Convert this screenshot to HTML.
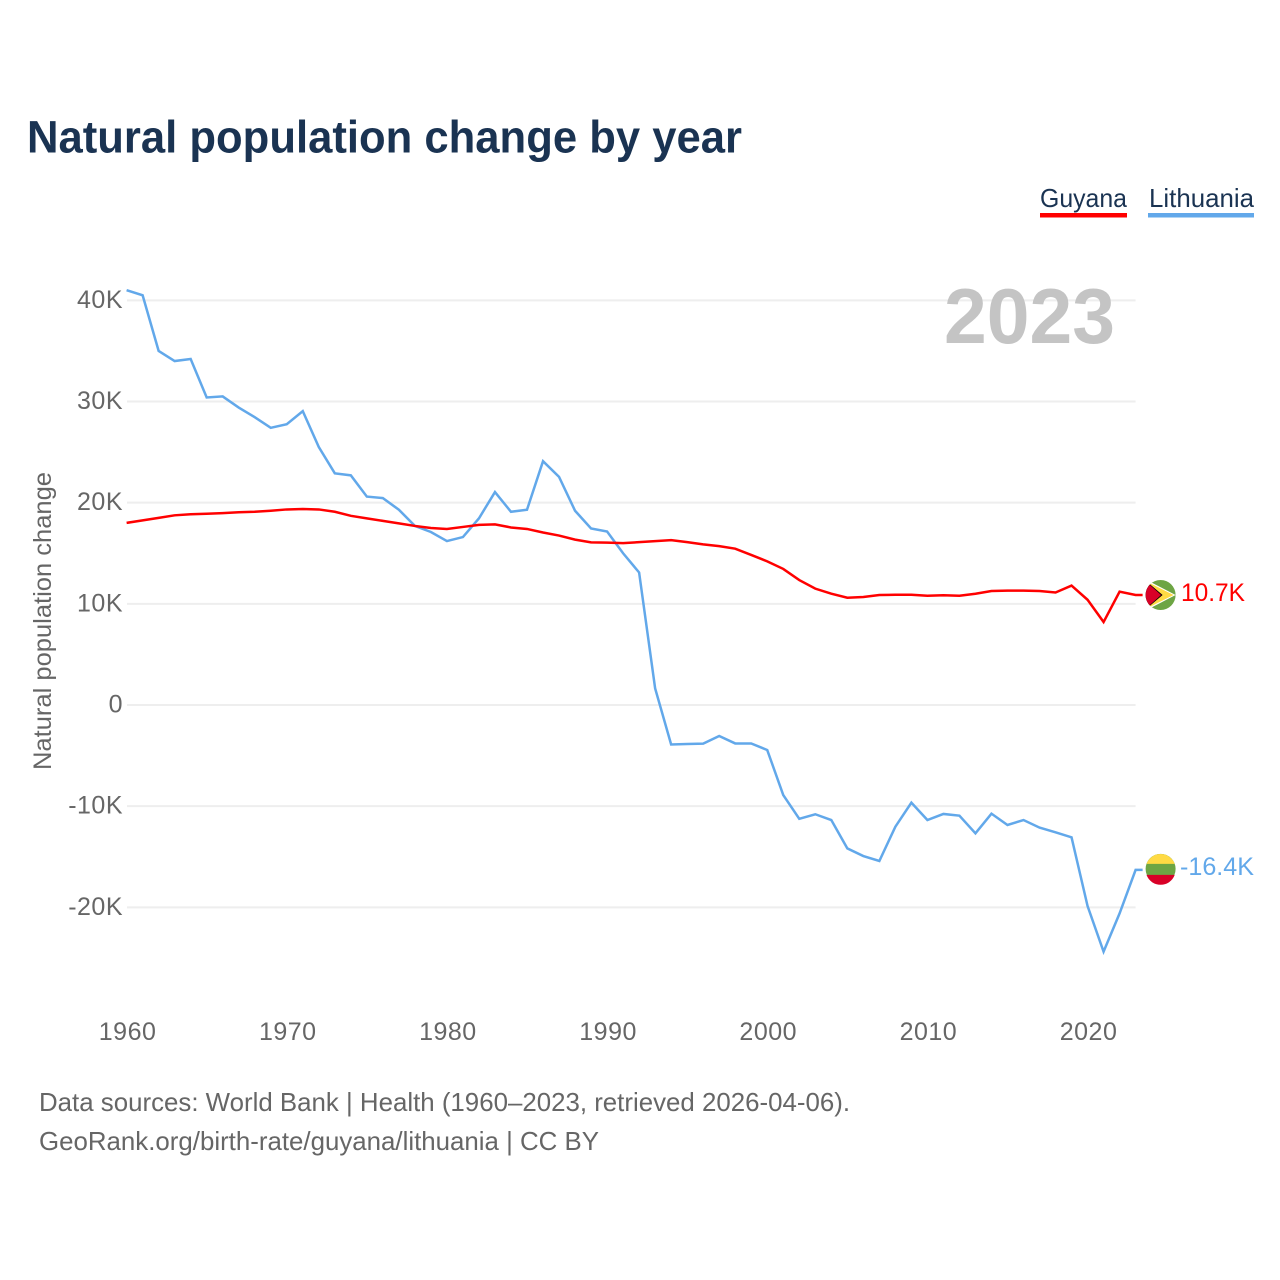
<!DOCTYPE html>
<html lang="en">
<head>
<meta charset="utf-8">
<title>Natural population change by year</title>
<style>
html,body{margin:0;padding:0;background:#fff;width:1280px;height:1280px;overflow:hidden}
svg{display:block}
text{font-family:"Liberation Sans",sans-serif}
.tick{font-size:25px;fill:#666;letter-spacing:.5px}
.foot{font-size:26px;fill:#666}
.legend{font-size:26px;fill:#1a3352}
</style>
</head>
<body>
<svg id="chart" xmlns="http://www.w3.org/2000/svg" width="1280" height="1280" viewBox="0 0 1280 1280">
  <defs>
    <clipPath id="flag-clip"><circle r="15"/></clipPath>
  </defs>
  <text x="27" y="152.5" font-size="45" font-weight="700" fill="#1a3352" textLength="715" lengthAdjust="spacingAndGlyphs">Natural population change by year</text>

  <g>
    <text class="legend" x="1040" y="207" textLength="87" lengthAdjust="spacingAndGlyphs">Guyana</text>
    <rect x="1040" y="213" width="87" height="4.5" fill="#ff0000"/>
  </g>
  <g>
    <text class="legend" x="1149" y="207" textLength="105" lengthAdjust="spacingAndGlyphs">Lithuania</text>
    <rect x="1148" y="213" width="106" height="4.5" fill="#62a8ea"/>
  </g>

  <g id="grid"></g>
  <g id="yticks"></g>
  <g id="xticks"></g>

  <text transform="translate(51 621) rotate(-90)" text-anchor="middle" font-size="25" fill="#666" textLength="298" lengthAdjust="spacingAndGlyphs">Natural population change</text>

  <text x="944" y="343" font-size="78" font-weight="700" fill="#c4c4c4" textLength="171" lengthAdjust="spacingAndGlyphs">2023</text>

  <g id="series"></g>

  <text class="foot" x="39" y="1111" textLength="811" lengthAdjust="spacingAndGlyphs">Data sources: World Bank | Health (1960–2023, retrieved 2026-04-06).</text>
  <text class="foot" x="39" y="1150" textLength="560" lengthAdjust="spacingAndGlyphs">GeoRank.org/birth-rate/guyana/lithuania | CC BY</text>
</svg>
<script>
const startYear = 1960;
const xTickYears = [1960, 1970, 1980, 1990, 2000, 2010, 2020];
const yTickValues = [40, 30, 20, 10, 0, -10, -20];
const yTickLabels = ['40K', '30K', '20K', '10K', '0', '-10K', '-20K'];
const guyanaValues = [18.0,18.25,18.5,18.75,18.85,18.9,18.97,19.05,19.1,19.2,19.33,19.37,19.33,19.1,18.7,18.45,18.2,17.95,17.7,17.5,17.4,17.6,17.8,17.85,17.55,17.4,17.05,16.75,16.35,16.08,16.05,16.0,16.1,16.2,16.3,16.1,15.88,15.7,15.45,14.83,14.2,13.45,12.35,11.5,11.0,10.6,10.67,10.87,10.9,10.9,10.8,10.85,10.8,11.0,11.27,11.3,11.3,11.27,11.12,11.8,10.4,8.2,11.2,10.87];
const lithuaniaValues = [41.0,40.5,35.0,34.0,34.2,30.4,30.5,29.4,28.45,27.4,27.75,29.05,25.5,22.9,22.7,20.6,20.45,19.3,17.7,17.1,16.2,16.6,18.45,21.05,19.1,19.3,24.1,22.55,19.2,17.45,17.15,15.0,13.1,1.65,-3.9,-3.85,-3.82,-3.06,-3.8,-3.8,-4.45,-8.9,-11.25,-10.8,-11.37,-14.17,-14.93,-15.42,-12.03,-9.65,-11.37,-10.77,-10.94,-12.68,-10.74,-11.86,-11.37,-12.12,-12.58,-13.08,-19.87,-24.38,-20.6,-16.3];
const guyanaLabel = '10.7K';
const lithuaniaLabel = '-16.4K';

const NS = 'http://www.w3.org/2000/svg';
const xScale = function (year) { return 126.6 + (year - 1960) * 16.016; };
const yScale = function (value) { return 705 - value * 10.117; };
const plotRight = xScale(2023);
const connectorEnd = plotRight + 7;
const flagX = plotRight + 25;

function make(tag, parent, attrs) {
  const el = document.createElementNS(NS, tag);
  Object.keys(attrs).forEach(function (k) { el.setAttribute(k, attrs[k]); });
  parent.appendChild(el);
  return el;
}

const grid = document.getElementById('grid');
const yticks = document.getElementById('yticks');
const xticks = document.getElementById('xticks');
const series = document.getElementById('series');

yTickValues.forEach(function (v, i) {
  const line = make('line', grid, { x1: 127, x2: plotRight, y1: yScale(v), y2: yScale(v), stroke: '#eeeeee', 'stroke-width': 2 });
  
  
  const t = make('text', yticks, { x: 123, y: yScale(v) + 7.5, 'text-anchor': 'end', class: 'tick' });
  
  
  t.textContent = yTickLabels[i];
});

xTickYears.forEach(function (y) {
  const t = make('text', xticks, { x: xScale(y) + 1, y: 1040, 'text-anchor': 'middle', class: 'tick' });
  
  
  t.textContent = String(y);
});

function pathFor(values) {
  return values.map(function (v, i) {
    return (i ? 'L' : 'M') + xScale(startYear + i).toFixed(2) + ' ' + yScale(v).toFixed(2);
  }).join(' ');
}

function drawLine(values, color) {
  const last = yScale(values[values.length - 1]);
  const d = pathFor(values) + ' L' + connectorEnd + ' ' + last.toFixed(2);
  return make('path', series, { d: d, fill: 'none', stroke: color, 'stroke-width': 2.5, 'stroke-linejoin': 'miter' });
}

const lineLith = drawLine(lithuaniaValues, '#62a8ea');


const lineGuy = drawLine(guyanaValues, '#ff0000');



/* Guyana flag and end label */
const gy = yScale(guyanaValues[guyanaValues.length - 1]);
const flagG = make('g', series, { transform: 'translate(' + flagX + ' ' + gy.toFixed(2) + ')', 'clip-path': 'url(#flag-clip)' });


make('rect', flagG, { x: -15, y: -15, width: 30, height: 30, fill: '#6da544' });
make('path', flagG, { d: 'M-12 -14 L15 0 L-12 14 Z', fill: '#fff' });
make('path', flagG, { d: 'M-12 -12.5 L13 0 L-12 12.5 Z', fill: '#ffda44' });
make('path', flagG, { d: 'M-11 -11 L2 0 L-11 11 L-16 11 L-16 -11 Z', fill: '#000' });
make('path', flagG, { d: 'M-10.5 -9.8 L0.5 0 L-10.5 9.8 L-16 9.8 L-16 -9.8 Z', fill: '#d80027' });

const labelG = make('text', series, { x: 1181, y: gy + 6, 'font-size': 25, fill: '#ff0000', textLength: 64, lengthAdjust: 'spacingAndGlyphs' });


labelG.textContent = guyanaLabel;

/* Lithuania flag and end label */
const ly = yScale(lithuaniaValues[lithuaniaValues.length - 1]);
const flagL = make('g', series, { transform: 'translate(' + flagX + ' ' + (ly - 1).toFixed(2) + ')' });


make('circle', flagL, { r: 15, fill: '#6da544' });
make('path', flagL, { d: 'M-14.1 -5 A15 15 0 0 1 14.1 -5 Z', fill: '#ffda44' });
make('path', flagL, { d: 'M-14.1 6 A15 15 0 0 0 14.1 6 Z', fill: '#d80027' });

const labelL = make('text', series, { x: 1180, y: ly + 5, 'font-size': 25, fill: '#62a8ea', textLength: 74, lengthAdjust: 'spacingAndGlyphs' });


labelL.textContent = lithuaniaLabel;
</script>
</body>
</html>
